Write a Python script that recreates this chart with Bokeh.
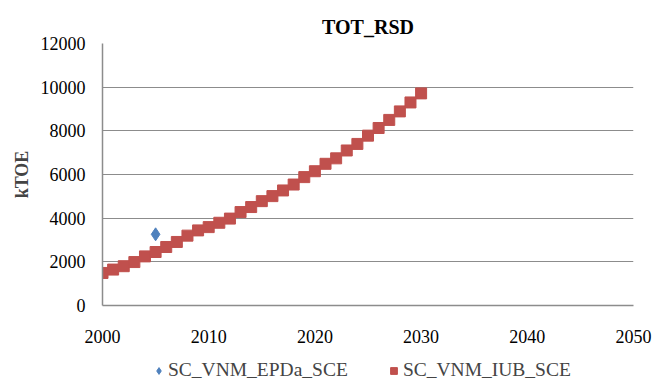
from bokeh.plotting import figure
from bokeh.layouts import column
from bokeh.models import Range1d, FixedTicker, Legend, LegendItem
from bokeh.embed import file_html
from bokeh.resources import INLINE

# Series data (kTOE)
epda_years = [2005]
epda_values = [3260]

iub_years = list(range(2000, 2031))
iub_values = [1490, 1645, 1800, 1990, 2250, 2450, 2680, 2910, 3200, 3440,
              3590, 3790, 3980, 4280, 4510, 4780, 5010, 5270, 5540, 5880,
              6150, 6490, 6740, 7100, 7400, 7780, 8130, 8500, 8890, 9300,
              9715]

x_ticks = [2000, 2010, 2020, 2030, 2040, 2050]
y_ticks = [0, 2000, 4000, 6000, 8000, 10000, 12000]

FONT = "Liberation Serif"
GRID = "#8c8c8c"
EPDA_COLOR = "#4F81BD"
IUB_COLOR = "#C0504D"

p = figure(width=654, height=345, output_backend="svg", toolbar_location=None,
           x_range=Range1d(2000, 2050), y_range=Range1d(0, 12000),
           title="TOT_RSD", min_border_left=102, min_border_right=21,
           min_border_top=43, min_border_bottom=40)

p.title.align = "center"
p.title.vertical_align = "middle"
p.title.offset = 6
p.title.text_font = FONT
p.title.text_font_size = "20px"
p.title.text_font_style = "bold"
p.title.text_color = "black"

p.outline_line_color = None
p.xgrid.grid_line_color = None
p.ygrid.grid_line_color = GRID
p.ygrid.grid_line_width = 1

for ax in (p.xaxis, p.yaxis):
    ax.axis_line_color = GRID
    ax.axis_line_width = 1.5
    ax.major_tick_line_color = None
    ax.minor_tick_line_color = None
    ax.major_label_text_font = FONT
    ax.major_label_text_font_size = "18px"
    ax.major_label_text_color = "black"

p.xaxis.ticker = FixedTicker(ticks=x_ticks)
p.yaxis.ticker = FixedTicker(ticks=y_ticks)
p.xaxis.major_label_standoff = 18
p.yaxis.major_label_standoff = 11

p.yaxis.axis_label = "kTOE"
p.yaxis.axis_label_text_font = FONT
p.yaxis.axis_label_text_font_size = "18px"
p.yaxis.axis_label_text_font_style = "bold"
p.yaxis.axis_label_standoff = 6

p.scatter(iub_years, iub_values, marker="square", size=11,
          fill_color=IUB_COLOR, line_color=IUB_COLOR)
p.scatter(epda_years, epda_values, marker="diamond", size=13,
          fill_color=EPDA_COLOR, line_color=EPDA_COLOR)

# Legend strip under the chart: same series, ranges kept off the data so
# only the legend entries show.
leg = figure(width=654, height=36, output_backend="svg", toolbar_location=None,
             x_range=Range1d(0, 1), y_range=Range1d(-2, -1),
             min_border_left=0, min_border_right=0,
             min_border_top=0, min_border_bottom=0)
leg.axis.visible = False
leg.grid.visible = False
leg.outline_line_color = None
leg_epda = leg.scatter(epda_years, epda_values, marker="diamond", size=13,
                       fill_color=EPDA_COLOR, line_color=EPDA_COLOR)
leg_iub = leg.scatter(iub_years, iub_values, marker="square", size=11,
                      fill_color=IUB_COLOR, line_color=IUB_COLOR)

legend = Legend(items=[LegendItem(label="SC_VNM_EPDa_SCE", renderers=[leg_epda]),
                       LegendItem(label="SC_VNM_IUB_SCE", renderers=[leg_iub])],
                orientation="horizontal", location=(48, 0),
                label_text_font=FONT, label_text_font_size="19.5px",
                glyph_width=17, glyph_height=17, spacing=37,
                label_standoff=1, padding=0, margin=0,
                border_line_color=None, background_fill_alpha=0)
leg.add_layout(legend)

layout = column(p, leg, spacing=0)
open("out.html", "w").write(file_html(layout, INLINE))
